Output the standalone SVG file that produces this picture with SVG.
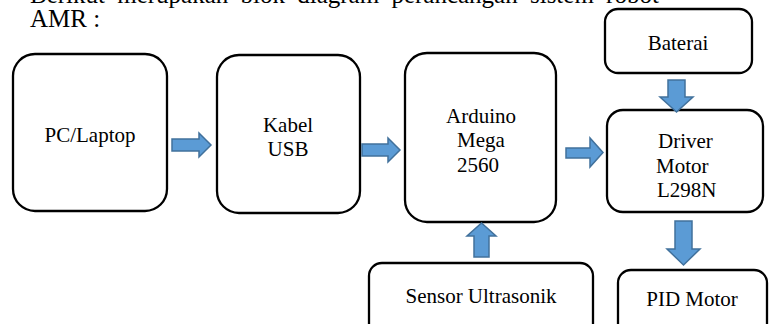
<svg xmlns="http://www.w3.org/2000/svg" width="772" height="324" viewBox="0 0 772 324">
  <style>
    .box { fill: #ffffff; stroke: #000000; stroke-width: 2.3; }
    .lbl { font-family: 'Liberation Serif', 'DejaVu Serif', Tinos, Times, serif; font-size: 21px; fill: #000000; }
    .para { font-family: 'Liberation Serif', 'DejaVu Serif', Tinos, Times, serif; font-size: 25px; fill: #000000; }
    .arrow { fill: #5B9BD5; stroke: #41719C; stroke-width: 1.5; stroke-linejoin: miter; }
  </style>
  <rect width="772" height="324" fill="#ffffff"/>

  <!-- paragraph text above the block diagram -->
  <text class="para" x="30" y="3" word-spacing="6">Berikut merupakan blok diagram perancangan sistem robot</text>
  <text class="para" x="30" y="27">AMR :</text>

  <g id="pc-laptop">
    <rect class="box" x="13" y="54" width="154" height="157" rx="22" ry="22"/>
    <text class="lbl" x="90" y="142" text-anchor="middle">PC/Laptop</text>
  </g>

  <g id="kabel-usb">
    <rect class="box" x="217" y="55" width="143" height="158" rx="22" ry="22"/>
    <text class="lbl" x="288" y="132" text-anchor="middle">Kabel</text>
    <text class="lbl" x="288" y="156" text-anchor="middle">USB</text>
  </g>

  <g id="arduino-mega">
    <rect class="box" x="405" y="53" width="151" height="169" rx="22" ry="22"/>
    <text class="lbl" x="481" y="123" text-anchor="middle">Arduino</text>
    <text class="lbl" x="481" y="147" text-anchor="middle">Mega</text>
    <text class="lbl" x="457" y="172">2560</text>
  </g>

  <g id="baterai">
    <rect class="box" x="605" y="9" width="147" height="64" rx="13" ry="13"/>
    <text class="lbl" x="678" y="50" text-anchor="middle">Baterai</text>
  </g>

  <g id="driver-motor">
    <rect class="box" x="607" y="110" width="156" height="102" rx="16" ry="16"/>
    <text class="lbl" x="658" y="148">Driver</text>
    <text class="lbl" x="656" y="173">Motor</text>
    <text class="lbl" x="657" y="197">L298N</text>
  </g>

  <g id="sensor-ultrasonik">
    <rect class="box" x="369" y="263" width="224" height="80" rx="13" ry="13"/>
    <text class="lbl" x="481" y="303" text-anchor="middle">Sensor Ultrasonik</text>
  </g>

  <g id="pid-motor">
    <rect class="box" x="618" y="270" width="149" height="74" rx="13" ry="13"/>
    <text class="lbl" x="692" y="306" text-anchor="middle">PID Motor</text>
  </g>

  <!-- block arrows between the stages -->
  <g id="connectors">
    <!-- PC/Laptop to Kabel USB -->
    <polygon class="arrow" points="172,139 199,139 199,133 211,145 199,157 199,151 172,151"/>
    <!-- Kabel USB to Arduino -->
    <polygon class="arrow" points="362,144 388,144 388,138 400,150 388,162 388,156 362,156"/>
    <!-- Arduino to Driver Motor -->
    <polygon class="arrow" points="566,148 590,148 590,138 603,152.5 590,167 590,158 566,158"/>
    <!-- Baterai to Driver Motor -->
    <polygon class="arrow" points="668,80 685,80 685,97 693,97 676.5,112 660,97 668,97"/>
    <!-- Sensor Ultrasonik to Arduino -->
    <polygon class="arrow" points="474,257 474,236 467,236 481.5,223 496,236 489,236 489,257"/>
    <!-- Driver Motor to PID Motor -->
    <polygon class="arrow" points="675,221 692,221 692,249 700,249 683.5,265 667,249 675,249"/>
  </g>
</svg>
